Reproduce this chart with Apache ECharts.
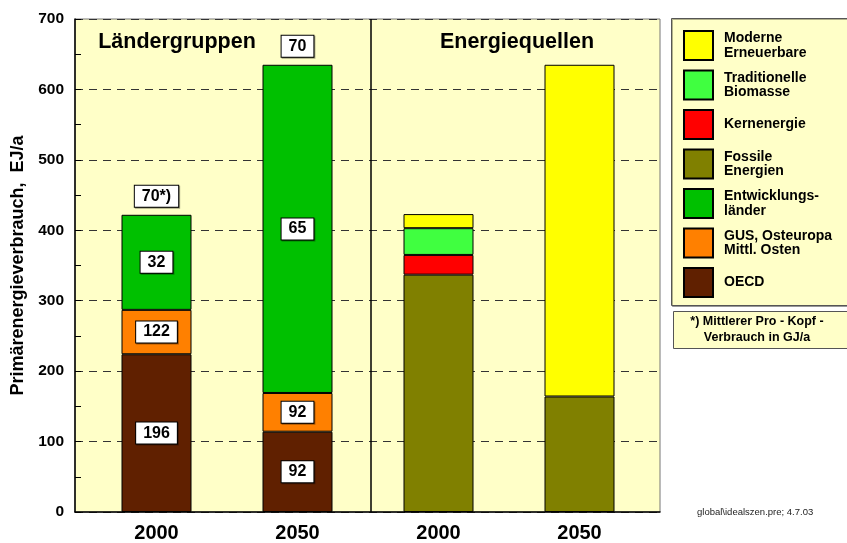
<!DOCTYPE html>
<html>
<head>
<meta charset="utf-8">
<script src="https://cdn.jsdelivr.net/npm/echarts@6/dist/echarts.min.js"></script>
<style>
  html, body { margin: 0; padding: 0; background: #fff; }
  #chart { width: 847px; height: 543px; }
</style>
</head>
<body>
<div id="chart"></div>
<script>
// Säulen: Ländergruppen 2000/2050, Energiequellen 2000/2050
const years = ['2000', '2050', '2000 ', '2050 ']

// Primärenergieverbrauch in EJ/a
const oecd = [224, 114, '-', '-']
const gus = [63, 55, '-', '-']
const entwicklung = [135, 466, '-', '-']
const fossil = ['-', '-', 337, 164]
const kern = ['-', '-', 28, '-']
const biomasse = ['-', '-', 38, '-']
const erneuerbar = ['-', '-', 20, 471]
const gesamtMarker = [0, 0, '-', '-']

// Pro-Kopf-Verbrauch in GJ/a
const proKopfOecd = ['196', '92']
const proKopfGus = ['122', '92']
const proKopfEntw = ['32', '65']
const proKopfMittel = ['70*)', '70']

const FONT = '"Liberation Sans", Arial, sans-serif'

const chart = echarts.init(document.getElementById('chart'))

const boxLabel = (texts, position) => ({
  show: true,
  position: position,
  distance: 8,
  formatter: p => texts[p.dataIndex] || '',
  backgroundColor: '#fff',
  borderColor: '#000',
  borderWidth: 1,
  padding: [3, 7, 2, 7],
  color: '#000',
  fontFamily: FONT,
  fontWeight: 'bold',
  fontSize: 16,
  shadowColor: 'rgba(0,0,0,0.35)',
  shadowOffsetX: 1,
  shadowOffsetY: 1
})

function barSeries(name, values, color, label) {
  return {
    name: name,
    type: 'bar',
    stack: 'all',
    xAxisIndex: 1,
    yAxisIndex: 1,
    barWidth: 70,
    data: values,
    itemStyle: { color: color, borderColor: '#000', borderWidth: 1 },
    label: label || { show: false },
    emphasis: { disabled: true }
  }
}

const series = [
  barSeries('OECD', oecd, '#602000', boxLabel(proKopfOecd, 'inside')),
  barSeries('GUS, Osteuropa\nMittl. Osten', gus, '#FF8000', boxLabel(proKopfGus, 'inside')),
  barSeries('Entwicklungs-\nländer', entwicklung, '#00C000', boxLabel(proKopfEntw, 'inside')),
  Object.assign(barSeries('mittel', gesamtMarker, 'transparent', boxLabel(proKopfMittel, 'top')), {
    itemStyle: { color: 'transparent', borderWidth: 0 }
  }),
  barSeries('Fossile\nEnergien', fossil, '#808000'),
  barSeries('Kernenergie', kern, '#FF0000'),
  barSeries('Traditionelle\nBiomasse', biomasse, '#40FF40'),
  barSeries('Moderne\nErneuerbare', erneuerbar, '#FFFF00')
]

chart.setOption({
  animation: false,
  textStyle: { fontFamily: FONT },
  grid: [
    // sichtbarer Rahmen mit y-Achse
    { left: 75, right: 187, top: 19, bottom: 31, show: true, backgroundColor: '#FFFFC8', borderColor: '#777', borderWidth: 1 },
    // Säulen
    { left: 86, right: 197, top: 19, bottom: 31, show: false }
  ],
  xAxis: [
    {
      // nur für die Trennlinie zwischen den beiden Gruppen
      gridIndex: 0, type: 'value', min: 0, max: 0.99, interval: 0.5,
      splitLine: { show: true, lineStyle: { color: ['transparent', '#000', 'transparent'], width: 1.5, type: 'solid' } },
      axisTick: { show: false }, axisLabel: { show: false },
      axisLine: { onZero: false, lineStyle: { color: '#000', width: 1.5 } }
    },
    {
      gridIndex: 1, type: 'category', data: years,
      axisLine: { show: false },
      axisTick: { show: false },
      splitLine: { show: false },
      axisLabel: {
        formatter: v => v.trim(),
        color: '#000', fontFamily: FONT, fontWeight: 'bold', fontSize: 20, margin: 11
      }
    }
  ],
  yAxis: [
    {
      gridIndex: 0,
      type: 'value',
      min: 0,
      max: 700,
      interval: 100,
      name: 'Primärenergieverbrauch,  EJ/a',
      nameLocation: 'middle',
      nameGap: 44,
      nameTextStyle: { color: '#000', fontFamily: FONT, fontWeight: 'bold', fontSize: 18 },
      axisLine: { show: true, onZero: false, lineStyle: { color: '#000', width: 1.5 } },
      axisTick: { show: true, inside: true, length: 6, lineStyle: { color: '#000' } },
      minorTick: { show: true, splitNumber: 2, length: 6, lineStyle: { color: '#000' } },
      axisLabel: { color: '#000', fontFamily: FONT, fontWeight: 'bold', fontSize: 15.5, margin: 11 },
      splitLine: { show: true, lineStyle: { color: '#333', type: [8, 6], width: 1 } }
    },
    {
      gridIndex: 1, type: 'value', min: 0, max: 700,
      show: false, splitLine: { show: false }
    }
  ],
  legend: {
    orient: 'vertical',
    left: 683,
    top: 30,
    padding: 0,
    itemWidth: 29,
    itemHeight: 29,
    itemGap: 8.5,
    icon: 'rect',
    selectedMode: false,
    data: ['Moderne\nErneuerbare', 'Traditionelle\nBiomasse', 'Kernenergie', 'Fossile\nEnergien',
      'Entwicklungs-\nländer', 'GUS, Osteuropa\nMittl. Osten', 'OECD'],
    textStyle: {
      color: '#000', fontFamily: FONT, fontWeight: 'bold', fontSize: 14, lineHeight: 14.5,
      padding: [0, 0, 0, 6]
    }
  },
  graphic: [
    {
      type: 'text', x: 177, y: 42, z: 10,
      style: { text: 'Ländergruppen', fill: '#000', font: 'bold 21.5px ' + FONT, textAlign: 'center', textVerticalAlign: 'middle' }
    },
    {
      type: 'text', x: 517, y: 42, z: 10,
      style: { text: 'Energiequellen', fill: '#000', font: 'bold 21.5px ' + FONT, textAlign: 'center', textVerticalAlign: 'middle' }
    },
    {
      type: 'rect', z: 0,
      shape: { x: 671.5, y: 18.5, width: 190, height: 287 },
      style: { fill: '#FFFFC8', stroke: '#555', lineWidth: 1, shadowColor: 'rgba(0,0,0,0.3)', shadowOffsetX: 1, shadowOffsetY: 1 }
    },
    {
      type: 'rect', z: 0,
      shape: { x: 673.5, y: 311.5, width: 190, height: 37 },
      style: { fill: '#FFFFC8', stroke: '#555', lineWidth: 1 }
    },
    {
      type: 'text', x: 757, y: 330, z: 10,
      style: {
        text: '*) Mittlerer Pro - Kopf -\nVerbrauch in GJ/a',
        fill: '#000', font: 'bold 12.5px ' + FONT, lineHeight: 16,
        textAlign: 'center', textVerticalAlign: 'middle'
      }
    },
    {
      type: 'text', x: 697, y: 512, z: 10,
      style: { text: 'global\\idealszen.pre; 4.7.03', fill: '#222', font: '9.5px ' + FONT, textVerticalAlign: 'middle' }
    }
  ],
  series: series
})
</script>
</body>
</html>
